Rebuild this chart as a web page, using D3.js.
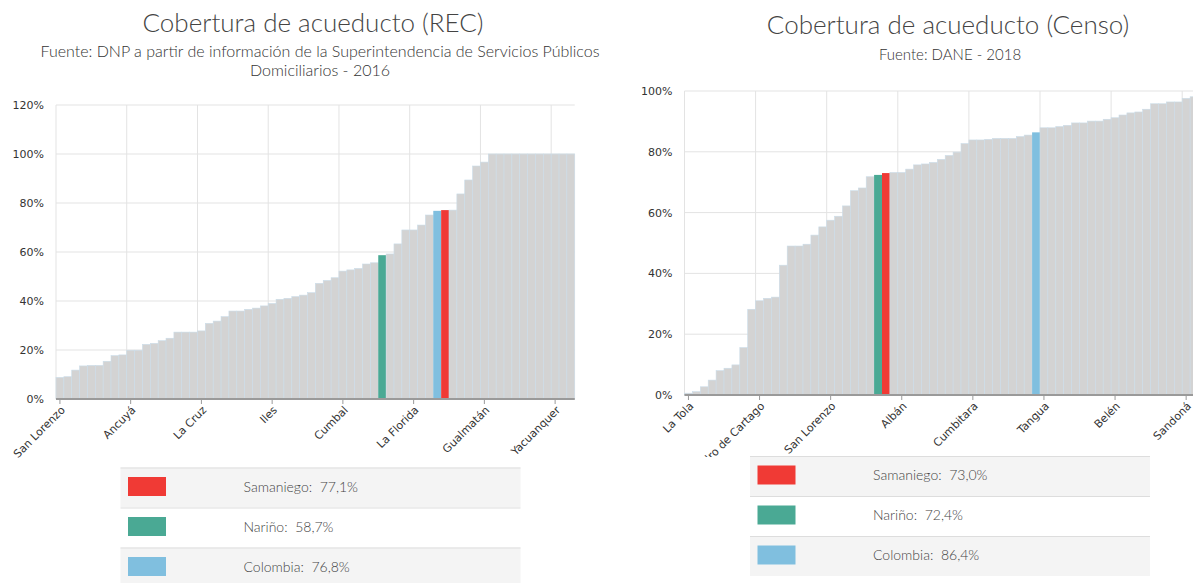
<!DOCTYPE html>
<html>
<head>
<meta charset="utf-8">
<script src="https://cdn.jsdelivr.net/npm/d3@7"></script>
<style>
  body { margin: 0; background: #fff; overflow: hidden; }
  svg { display: block; }
</style>
</head>
<body>
<script>
// --- data: cobertura de acueducto, municipios de Nariño ordenados ---
var recValues = [
  8.8, 9.1, 11.8, 13.5, 13.7, 13.7, 15.4, 17.7, 18.0, 19.9,
  19.9, 22.3, 22.7, 23.8, 24.8, 27.3, 27.3, 27.3, 27.8, 30.9,
  31.8, 33.6, 35.9, 35.9, 36.6, 37.1, 38.0, 39.0, 40.7, 41.1,
  41.8, 42.4, 43.4, 47.2, 48.4, 49.5, 52.2, 52.7, 53.3, 55.1,
  55.6, 58.7, 59.2, 63.3, 69.0, 69.0, 71.0, 75.1, 76.8, 77.1,
  77.1, 83.7, 89.4, 95.1, 96.7, 100, 100, 100, 100, 100,
  100, 100, 100, 100, 100, 100
]
var recTickLabels = ["San Lorenzo", "Ancuyá", "La Cruz", "Iles", "Cumbal", "La Florida", "Gualmatán", "Yacuanquer"]
var recHighlight = { 49: "samaniego", 41: "narino", 48: "colombia" }

var censoValues = [
  0.6, 1.1, 2.7, 4.9, 8.0, 8.8, 9.9, 15.6, 28.2, 31.0,
  31.8, 32.2, 42.7, 49.0, 49.0, 49.6, 52.6, 55.3, 57.5, 58.8,
  62.2, 67.2, 68.1, 71.8, 72.4, 73.0, 73.2, 73.2, 74.3, 75.7,
  76.0, 76.5, 77.5, 78.8, 79.9, 82.7, 83.9, 83.9, 84.1, 84.4,
  84.4, 84.4, 85.0, 85.5, 86.4, 87.9, 87.9, 88.3, 88.7, 89.5,
  89.5, 90.1, 90.1, 90.7, 91.2, 92.1, 92.8, 93.1, 94.0, 95.8,
  95.8, 96.4, 96.4, 97.6, 98.1, 99.0
]
var censoTickLabels = ["La Tola", "San Pedro de Cartago", "San Lorenzo", "Albán", "Cumbitara", "Tangua", "Belén", "Sandoná"]
var censoHighlight = { 25: "samaniego", 24: "narino", 44: "colombia" }

var legendNames = ["Samaniego", "Nariño", "Colombia"]
var legendKeys = ["samaniego", "narino", "colombia"]
var recLegendValues = ["77,1%", "58,7%", "76,8%"]
var censoLegendValues = ["73,0%", "72,4%", "86,4%"]

var colors = { samaniego: "#f03a35", narino: "#4aa994", colombia: "#80bfdf" }
var titleFont = "'Lato', 'Noto Sans', sans-serif"
var axisFont = "'DejaVu Sans', Verdana, sans-serif"

var svg = d3.select("body").append("svg")
  .attr("width", 1193)
  .attr("height", 583)

svg.append("defs").append("clipPath").attr("id", "clipRight")
  .append("rect").attr("x", 600).attr("y", 0).attr("width", 600).attr("height", 457)

function drawChart(g, lg, opts) {
  var n = opts.values.length
  var x = d3.scaleBand().domain(d3.range(n)).range([opts.left, opts.left + n * opts.bw]).padding(0)
  var y = d3.scaleLinear().domain([0, opts.yMax]).range([opts.bottom, opts.top])

  // titles
  g.append("text")
    .attr("x", opts.cx).attr("y", opts.titleY)
    .attr("text-anchor", "middle")
    .style("font-family", titleFont).style("font-weight", 300)
    .style("font-size", "26px").attr("fill", "#444")
    .text(opts.title)
  opts.subtitle.forEach(function (s, i) {
    g.append("text")
      .attr("x", opts.subCx).attr("y", opts.subY + i * 19)
      .attr("text-anchor", "middle")
      .style("font-family", titleFont).style("font-weight", 300)
      .style("font-size", opts.subSize + "px").attr("fill", "#333")
      .text(s)
  })

  var tickIdx = d3.range(0, n, 9).slice(0, opts.tickLabels.length)
  var right = Math.min(opts.left + n * opts.bw, opts.plotRight)

  // grid
  var yTicks = d3.range(0, opts.yMax + 0.001, 0.2)
  g.selectAll(".hgrid").data(yTicks).enter().append("line")
    .attr("x1", opts.left).attr("x2", right)
    .attr("y1", function (d) { return y(d) }).attr("y2", function (d) { return y(d) })
    .attr("stroke", "#e3e3e3").attr("stroke-width", 1)
  g.selectAll(".vgrid").data(tickIdx).enter().append("line")
    .attr("x1", function (d) { return x(d) }).attr("x2", function (d) { return x(d) })
    .attr("y1", opts.top).attr("y2", opts.bottom)
    .attr("stroke", "#e3e3e3").attr("stroke-width", 1)

  // bars
  g.selectAll(".bar").data(opts.values).enter().append("rect")
    .attr("x", function (d, i) { return x(i) })
    .attr("width", x.bandwidth())
    .attr("y", function (d) { return y(d / 100) })
    .attr("height", function (d) { return opts.bottom - y(d / 100) })
    .attr("fill", function (d, i) { return opts.highlight[i] ? colors[opts.highlight[i]] : "#d3d3d3" })
    .attr("stroke", function (d, i) { return opts.highlight[i] ? "none" : "#cbdde9" })
    .attr("stroke-width", 0.6)

  // y axis labels
  g.selectAll(".ylab").data(yTicks).enter().append("text")
    .attr("x", opts.left - 12).attr("y", function (d) { return y(d) + 4 })
    .attr("text-anchor", "end")
    .style("font-family", axisFont).style("font-size", "11px").attr("fill", "#333")
    .text(function (d) { return Math.round(d * 100) + "%" })

  // x axis
  var xAxis = d3.axisBottom(x)
    .tickValues(tickIdx)
    .tickSize(5)
    .tickFormat(function (d, i) { return opts.tickLabels[i] })
  var ax = g.append("g").attr("transform", "translate(0," + opts.bottom + ")").call(xAxis)
  ax.select(".domain").attr("stroke", "#9a9a9a").attr("stroke-width", 2)
    .attr("d", "M" + opts.left + ",0H" + (opts.left + n * opts.bw))
  ax.selectAll(".tick line").attr("stroke", "#9a9a9a")
  ax.selectAll(".tick text")
    .style("font-family", axisFont).style("font-size", "11px").attr("fill", "#333")
    .attr("text-anchor", "end")
    .attr("x", 0).attr("y", 0).attr("dy", "0.35em")
    .attr("transform", "translate(3,9) rotate(-45)")

  // legend table
  legendKeys.forEach(function (k, i) {
    var ry = opts.legTop + i * 40
    lg.append("rect").attr("x", opts.legLeft).attr("y", ry).attr("width", 400).attr("height", 40)
      .attr("fill", i % 2 === 0 ? "#f4f4f4" : "#fff")
    lg.append("line").attr("x1", opts.legLeft).attr("x2", opts.legLeft + 400)
      .attr("y1", ry + 0.5).attr("y2", ry + 0.5).attr("stroke", "#dddddd")
    lg.append("rect").attr("x", opts.legLeft + 7.5).attr("y", ry + 9.5).attr("width", 38).attr("height", 19)
      .attr("fill", colors[k])
    lg.append("text").attr("x", opts.legLeft + 123).attr("y", ry + 24)
      .style("font-family", titleFont).style("font-weight", 300)
      .style("font-size", "14px").style("white-space", "pre").attr("fill", "#444")
      .text(legendNames[i] + ":  " + opts.legendValues[i])
  })
}

drawChart(svg.append("g"), svg.append("g"), {
  values: recValues, tickLabels: recTickLabels, highlight: recHighlight,
  left: 56, bw: 7.86, plotRight: 575, top: 105, bottom: 399, yMax: 1.2,
  title: "Cobertura de acueducto (REC)", cx: 313, titleY: 32,
  subtitle: ["Fuente: DNP a partir de información de la Superintendencia de Servicios Públicos", "Domiciliarios - 2016"],
  subCx: 320, subY: 57, subSize: 16,
  legLeft: 120.5, legTop: 467.5, legendValues: recLegendValues
})

drawChart(svg.append("g").attr("clip-path", "url(#clipRight)"), svg.append("g"), {
  values: censoValues, tickLabels: censoTickLabels, highlight: censoHighlight,
  left: 684.5, bw: 7.9, plotRight: 1193, top: 91, bottom: 395, yMax: 1.0,
  title: "Cobertura de acueducto (Censo)", cx: 948, titleY: 34,
  subtitle: ["Fuente: DANE - 2018"],
  subCx: 950, subY: 60, subSize: 15,
  legLeft: 750, legTop: 456, legendValues: censoLegendValues
})
</script>
</body>
</html>
